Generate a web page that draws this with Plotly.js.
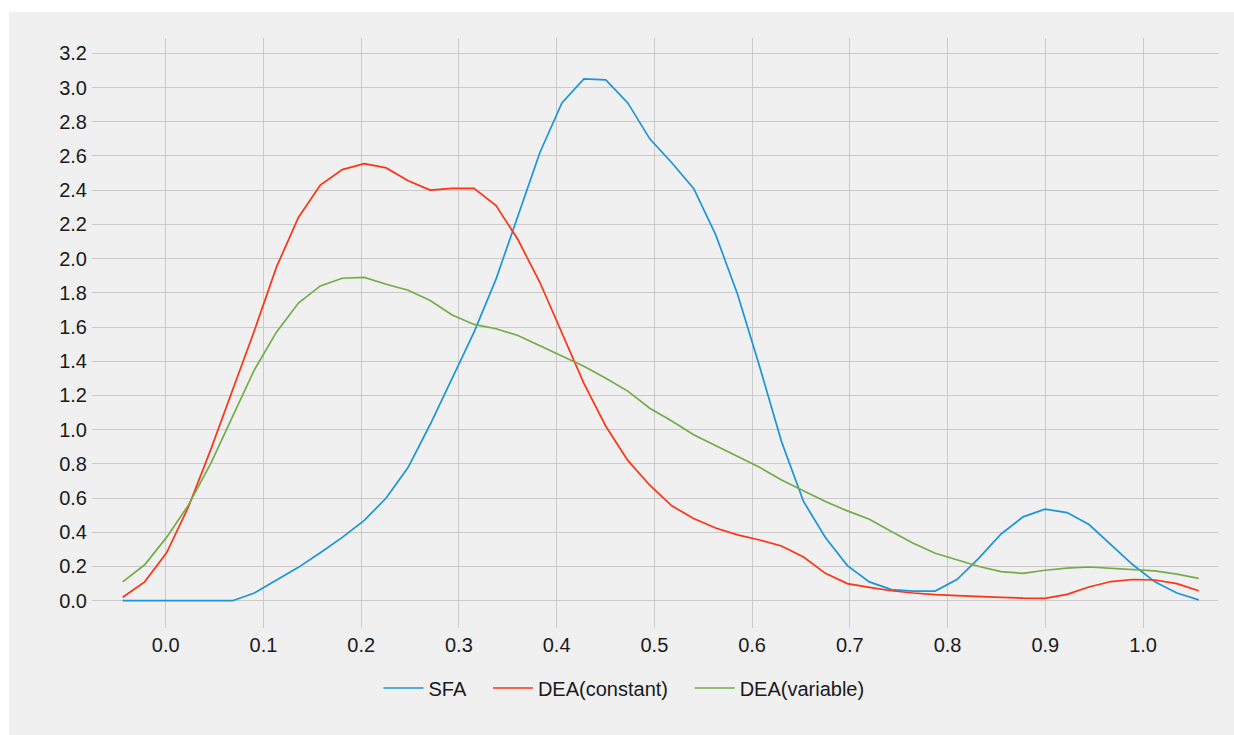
<!DOCTYPE html>
<html>
<head>
<meta charset="utf-8">
<script src="https://cdn.plot.ly/plotly-3.0.1.min.js"></script>
<style>
  html, body { margin: 0; padding: 0; background: #ffffff; width: 1234px; height: 735px; overflow: hidden; }
  #chart { position: absolute; left: 9px; top: 12px; width: 1225px; height: 723px; }
</style>
</head>
<body>
<div id="chart"></div>
<script>
const xGrid = [-0.044, -0.0215, 0.0009, 0.0234, 0.0459, 0.0684, 0.0908, 0.1133, 0.1358, 0.1582,
  0.1807, 0.2032, 0.2256, 0.2481, 0.2706, 0.2931, 0.3155, 0.3380, 0.3605, 0.3829,
  0.4054, 0.4279, 0.4503, 0.4728, 0.4953, 0.5178, 0.5402, 0.5627, 0.5852, 0.6076,
  0.6301, 0.6526, 0.6750, 0.6975, 0.7200, 0.7425, 0.7649, 0.7874, 0.8099, 0.8323,
  0.8548, 0.8773, 0.8997, 0.9222, 0.9447, 0.9672, 0.9896, 1.0121, 1.0346, 1.0570];

const sfa = [0, 0, 0, 0, 0, 0, 0.045, 0.12, 0.195, 0.28,
  0.37, 0.47, 0.60, 0.78, 1.03, 1.30, 1.57, 1.88, 2.25, 2.62,
  2.91, 3.05, 3.045, 2.91, 2.70, 2.56, 2.41, 2.14, 1.79, 1.37,
  0.93, 0.58, 0.37, 0.205, 0.11, 0.065, 0.056, 0.056, 0.125, 0.25,
  0.39, 0.49, 0.535, 0.515, 0.445, 0.33, 0.21, 0.11, 0.045, 0.005];

const deaConstant = [0.02, 0.11, 0.28, 0.55, 0.88, 1.23, 1.58, 1.95, 2.24, 2.43,
  2.52, 2.555, 2.53, 2.455, 2.40, 2.41, 2.41, 2.31, 2.11, 1.86,
  1.57, 1.27, 1.02, 0.82, 0.675, 0.555, 0.48, 0.425, 0.385, 0.355,
  0.32, 0.255, 0.16, 0.10, 0.078, 0.058, 0.045, 0.035, 0.03, 0.027,
  0.02, 0.015, 0.014, 0.037, 0.08, 0.112, 0.124, 0.121, 0.10, 0.058];

const deaVariable = [0.11, 0.21, 0.37, 0.56, 0.80, 1.08, 1.35, 1.57, 1.74, 1.84,
  1.885, 1.89, 1.85, 1.815, 1.755, 1.67, 1.615, 1.59, 1.55, 1.49,
  1.43, 1.37, 1.30, 1.225, 1.125, 1.05, 0.97, 0.905, 0.84, 0.78,
  0.705, 0.64, 0.58, 0.525, 0.476, 0.405, 0.336, 0.277, 0.237, 0.20,
  0.17, 0.16, 0.178, 0.19, 0.197, 0.19, 0.185, 0.174, 0.155, 0.131];

const seriesNames = ["SFA", "DEA(constant)", "DEA(variable)"];
const seriesColors = ["#1b95d8", "#ff3214", "#72ad47"];

const xTickVals = [0, 0.1, 0.2, 0.3, 0.4, 0.5, 0.6, 0.7, 0.8, 0.9, 1.0];
const xTickText = ["0.0", "0.1", "0.2", "0.3", "0.4", "0.5", "0.6", "0.7", "0.8", "0.9", "1.0"];
const yTickVals = [0, 0.2, 0.4, 0.6, 0.8, 1.0, 1.2, 1.4, 1.6, 1.8, 2.0, 2.2, 2.4, 2.6, 2.8, 3.0, 3.2];
const yTickText = ["0.0", "0.2", "0.4", "0.6", "0.8", "1.0", "1.2", "1.4", "1.6", "1.8", "2.0", "2.2", "2.4", "2.6", "2.8", "3.0", "3.2"];

const legendPad = "\u00a0\u00a0";
const ys = [sfa, deaConstant, deaVariable];
const traces = ys.map((y, i) => ({
  type: "scatter",
  mode: "lines",
  x: xGrid,
  y: y,
  name: seriesNames[i] + (i < ys.length - 1 ? legendPad + "\u00a0" : ""),
  line: { color: seriesColors[i], width: 1.7 }
}));

const layout = {
  width: 1225,
  height: 723,
  margin: { l: 83, r: 16, t: 26, b: 107, pad: 0 },
  paper_bgcolor: "#f0f0f0",
  plot_bgcolor: "#f0f0f0",
  font: { family: "Liberation Sans, Arial, sans-serif", size: 20, color: "#1a1a1a" },
  xaxis: {
    range: [-0.0754, 1.0767],
    tickmode: "array",
    tickvals: xTickVals,
    ticktext: xTickText,
    showgrid: true,
    gridcolor: "#cacaca",
    gridwidth: 1,
    zeroline: false,
    showline: false,
    ticks: "",
    ticklabelstandoff: 3
  },
  yaxis: {
    range: [-0.1596, 3.2894],
    tickmode: "array",
    tickvals: yTickVals,
    ticktext: yTickText,
    showgrid: true,
    gridcolor: "#cacaca",
    gridwidth: 1,
    zeroline: false,
    showline: false,
    ticks: "",
    ticklabelstandoff: 4
  },
  showlegend: true,
  legend: {
    orientation: "h",
    xref: "container",
    x: 0.502,
    xanchor: "center",
    yref: "container",
    y: 0.065,
    yanchor: "middle",
    bgcolor: "rgba(0,0,0,0)",
    font: { size: 20, color: "#1a1a1a" },
    itemwidth: 40
  }
};

Plotly.newPlot("chart", traces, layout, { staticPlot: true, displayModeBar: false });
</script>
</body>
</html>
